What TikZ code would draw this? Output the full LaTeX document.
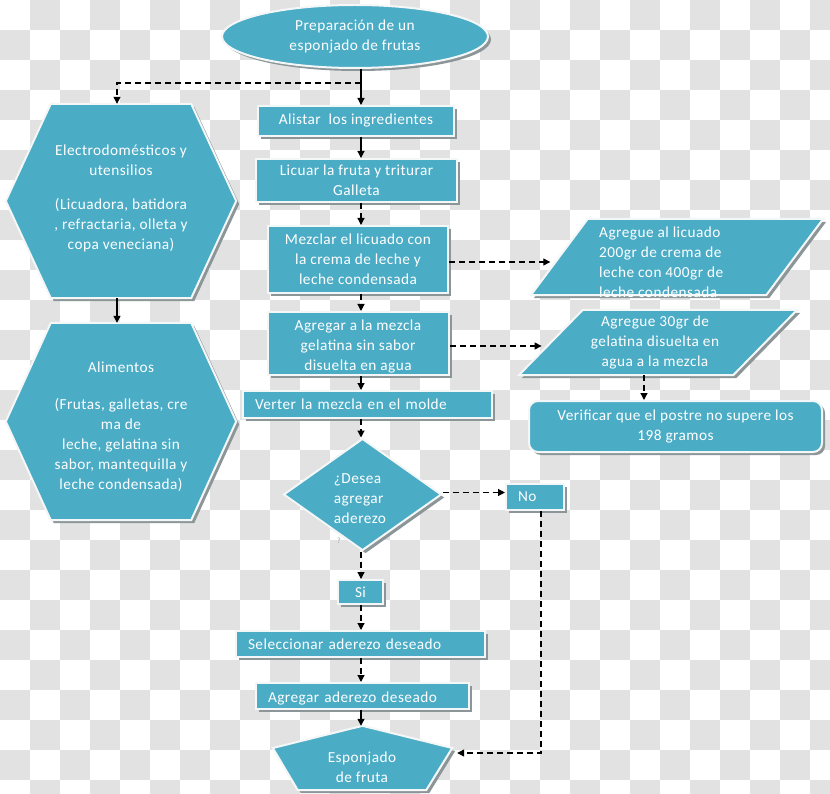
\documentclass[tikz,border=0pt]{standalone}
\usepackage{fontspec}
\setmainfont{Carlito}[LetterSpace=3]
\usetikzlibrary{shapes.geometric,shadows,arrows.meta,calc}
\definecolor{aqua}{RGB}{75,172,198}
\definecolor{rim}{RGB}{244,247,247}
\definecolor{shade}{RGB}{140,150,152}
\definecolor{chk}{RGB}{226,226,226}
\newcommand\txtfont{\fontsize{15.3}{20}\selectfont}
\tikzset{
  fillshape/.style={fill=aqua, draw=rim, line width=2pt, line join=miter,
    drop shadow={shadow xshift=3pt, shadow yshift=-3pt, fill=shade, opacity=1}},
  box/.style={fillshape, rectangle, inner sep=0pt, text=white, font=\txtfont, align=center},
  lbox/.style={box, align=left, inner xsep=12pt},
  ghost/.style={rectangle, inner sep=0pt},
  txt/.style={text=white, font=\txtfont, align=center, inner sep=0pt},
  conn/.style={line width=1.2pt, -{Triangle[length=7pt,width=7pt]}},
  dconn/.style={conn, dash pattern=on 6pt off 4pt},
}
\begin{document}
\begin{tikzpicture}[x=1pt,y=-1pt]
\useasboundingbox (0,0) rectangle (830,794);
\fill[white] (0,0) rectangle (830,794);
\begin{scope}
\clip (0,0) rectangle (830,794);
\foreach \i in {0,...,27}{
  \foreach \j in {0,...,26}{
    \pgfmathtruncatemacro\chkodd{mod(\i+\j,2)}
    \ifnum\chkodd=1 \fill[chk] (\i*30,\j*30) rectangle ++(30,30); \fi
  }}
\end{scope}

% start
\node[ellipse, fillshape, minimum width=266pt, minimum height=63pt, inner sep=0pt,
  text=white, font=\txtfont, align=center] (start) at (355,36.5) {Preparación de un\\esponjado de frutas};

% hexagon 1
\node[ghost, minimum width=230pt, minimum height=194pt] (hex1) at (121,201) {};
\path[fillshape] (hex1.west) -- ([xshift=45pt]hex1.north west) -- ([xshift=-45pt]hex1.north east)
  -- (hex1.east) -- ([xshift=-45pt]hex1.south east) -- ([xshift=45pt]hex1.south west) -- cycle;
\node[txt] (hex1t) at (121,198) {Electrodomésticos y\\utensilios\\[14pt](Licuadora, batidora\\, refractaria, olleta y\\copa veneciana)};

% hexagon 2
\node[ghost, minimum width=230pt, minimum height=197pt] (hex2) at (121,421.5) {};
\path[fillshape] (hex2.west) -- ([xshift=45pt]hex2.north west) -- ([xshift=-45pt]hex2.north east)
  -- (hex2.east) -- ([xshift=-45pt]hex2.south east) -- ([xshift=45pt]hex2.south west) -- cycle;
\node[txt] (hex2t) at (121,426.5) {Alimentos\\[17pt](Frutas, galletas, cre\\ma de\\leche, gelatina sin\\sabor, mantequilla y\\leche condensada)};

% main column
\node[box, minimum width=196pt, minimum height=30pt] (alistar) at (356,121) {Alistar\ \ los ingredientes};
\node[box, minimum width=201pt, minimum height=43pt] (licuar) at (356.5,180.5) {Licuar la fruta y triturar\\Galleta};
\node[box, minimum width=180pt, minimum height=67pt] (mezclar) at (358,259.5) {Mezclar el licuado con\\la crema de leche y\\leche condensada};
\node[ghost, fillshape, minimum width=181pt, minimum height=63pt] (agregar) at (358.5,343.5) {};
\node[txt] (agregart) at (358,347) {Agregar a la mezcla\\gelatina sin sabor\\disuelta en agua};
\node[lbox, text width=225pt, minimum height=27pt] (verter) at (367.5,404.5) {Verter la mezcla en el molde};
\node[diamond, fillshape, minimum width=158pt, minimum height=112pt, inner sep=0pt] (dia) at (362.5,494.5) {};
\node[txt, align=left] (diat) at (360,499) {¿Desea\\agregar\\aderezo};
\node[font=\fontsize{8}{8}\selectfont, text=gray!75, inner sep=0pt] (qm) at (339,541) {?};
\node[lbox, text width=34pt, minimum height=26pt] (no) at (535,497) {No};
\node[box, minimum width=45pt, minimum height=24pt] (si) at (360.5,592) {Si};
\node[lbox, text width=225pt, minimum height=26pt] (selec) at (360.5,644) {Seleccionar aderezo deseado};
\node[lbox, text width=189pt, minimum height=26pt, text height=17pt, text depth=3.5pt] (aderezo) at (362.5,696) {Agregar aderezo deseado};

% final pentagon
\node[ghost, minimum width=179pt, minimum height=64pt] (pent) at (362.5,758) {};
\path[fillshape] (pent.north) -- ([yshift=10pt]pent.east) -- ([xshift=-26pt]pent.south east)
  -- ([xshift=25pt]pent.south west) -- ([yshift=10pt]pent.west) -- cycle;
\node[txt] (pentt) at (362,767) {Esponjado\\de fruta};

% parallelogram 1
\node[ghost, minimum width=292pt, minimum height=76pt] (para1) at (677,257) {};
\path[fillshape] (para1.south west) -- ([xshift=57pt]para1.north west) -- (para1.north east)
  -- ([xshift=-57pt]para1.south east) -- cycle;
\node[txt, align=left, anchor=west] (para1t) at (599,262) {Agregue al licuado\\200gr de crema de\\leche con 400gr de\\leche condensada};

% parallelogram 2
\node[ghost, minimum width=278pt, minimum height=65pt] (para2) at (658,342.5) {};
\path[fillshape] (para2.south west) -- ([xshift=64pt]para2.north west) -- (para2.north east)
  -- ([xshift=-64pt]para2.south east) -- cycle;
\node[txt] (para2t) at (655,343) {Agregue 30gr de\\gelatina disuelta en\\agua a la mezcla};

% verify
\node[box, rounded corners=9pt, minimum width=293pt, minimum height=51pt] (verif) at (675.5,426.5) {Verificar que el postre no supere los\\198 gramos};

% connectors
\coordinate (colx) at (361,0);
\coordinate (jn) at ($(start.south -| colx)+(0,14)$);
\coordinate (p1in) at ($(para1.south west)!0.43!([xshift=57pt]para1.north west)$);
\coordinate (p2in) at ($(para2.south west)!0.45!([xshift=64pt]para2.north west)$);
\draw[conn] (start.south -| colx) -- (alistar.north -| colx);
\draw[dconn] (jn) -| ([xshift=-4pt]hex1.north);
\draw[conn] ([xshift=-4pt]hex1.south) -- ([xshift=-4pt]hex2.north);
\draw[conn] (alistar.south -| colx) -- (licuar.north -| colx);
\draw[dconn] (licuar.south -| colx) -- (mezclar.north -| colx);
\draw[dconn] (mezclar.south -| colx) -- (agregar.north -| colx);
\draw[conn] (agregar.south -| colx) -- (verter.north -| colx);
\draw[dconn] (verter.south -| colx) -- (dia.north -| colx);
\draw[dconn] (dia.south -| colx) -- (si.north -| colx);
\draw[dconn] (si.south -| colx) -- (selec.north -| colx);
\draw[dconn] (selec.south -| colx) -- (aderezo.north -| colx);
\draw[conn] (aderezo.south -| colx) -- (pent.north -| colx);
\draw[dconn, shorten >=5pt] ([yshift=-2.5pt]mezclar.east) -- ([yshift=-2.5pt]mezclar.east -| p1in);
\draw[dconn, shorten >=6pt] ([yshift=-2.5pt]agregar.east) -- ([yshift=-2.5pt]agregar.east -| p2in);
\draw[dconn] ([xshift=-14pt]para2.south) -- ([xshift=-14pt]para2.south |- verif.north);
\draw[dconn] ([yshift=2pt]dia.east) -- ([yshift=2pt]dia.east -| no.west);
\draw[dconn] ([xshift=6pt]no.south) |- ([xshift=5pt,yshift=5pt]pent.east);
\end{tikzpicture}
\end{document}
